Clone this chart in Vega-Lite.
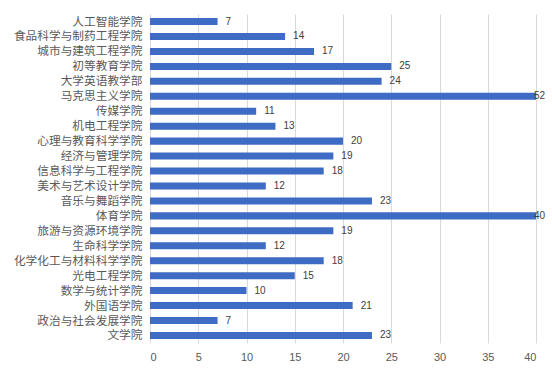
{
  "$schema": "https://vega.github.io/schema/vega-lite/v6.json",
  "width": 386,
  "height": 329,
  "autosize": {"type": "none"},
  "padding": {"left": 150, "top": 14, "right": 16, "bottom": 33},
  "background": "white",
  "config": {
    "view": {"stroke": null},
    "font": "Noto Sans CJK SC"
  },
  "data": {
    "values": [
      {"college": "人工智能学院", "count": 7},
      {"college": "食品科学与制药工程学院", "count": 14},
      {"college": "城市与建筑工程学院", "count": 17},
      {"college": "初等教育学院", "count": 25},
      {"college": "大学英语教学部", "count": 24},
      {"college": "马克思主义学院", "count": 52},
      {"college": "传媒学院", "count": 11},
      {"college": "机电工程学院", "count": 13},
      {"college": "心理与教育科学学院", "count": 20},
      {"college": "经济与管理学院", "count": 19},
      {"college": "信息科学与工程学院", "count": 18},
      {"college": "美术与艺术设计学院", "count": 12},
      {"college": "音乐与舞蹈学院", "count": 23},
      {"college": "体育学院", "count": 40},
      {"college": "旅游与资源环境学院", "count": 19},
      {"college": "生命科学学院", "count": 12},
      {"college": "化学化工与材料科学学院", "count": 18},
      {"college": "光电工程学院", "count": 15},
      {"college": "数学与统计学院", "count": 10},
      {"college": "外国语学院", "count": 21},
      {"college": "政治与社会发展学院", "count": 7},
      {"college": "文学院", "count": 23}
    ]
  },
  "encoding": {
    "y": {
      "field": "college",
      "type": "nominal",
      "sort": null,
      "title": null,
      "scale": {"paddingInner": 0.53, "paddingOuter": 0.27},
      "axis": {
        "domain": false,
        "ticks": false,
        "labelPadding": 8,
        "labelFontSize": 11.7,
        "labelColor": "#595959",
        "labelFont": "Noto Sans CJK SC"
      }
    },
    "x": {
      "field": "count",
      "type": "quantitative",
      "title": null,
      "scale": {"domain": [0, 40], "clamp": true, "nice": false},
      "axis": {
        "values": [0, 5, 10, 15, 20, 25, 30, 35, 40],
        "domain": false,
        "ticks": false,
        "grid": true,
        "gridColor": "#D9D9D9",
        "labelPadding": 8,
        "labelFontSize": 11,
        "labelColor": "#595959",
        "labelFont": "Liberation Sans"
      }
    }
  },
  "layer": [
    {"mark": {"type": "bar", "color": "#3E6BC3"}},
    {
      "transform": [{"filter": "datum.count < 40"}],
      "mark": {
        "type": "text",
        "align": "left",
        "dx": 8,
        "fontSize": 10,
        "color": "#404040",
        "font": "Liberation Sans"
      },
      "encoding": {"text": {"field": "count", "type": "quantitative"}}
    },
    {
      "transform": [{"filter": "datum.count >= 40"}],
      "mark": {
        "type": "text",
        "align": "right",
        "dx": 9,
        "fontSize": 10,
        "color": "#404040",
        "font": "Liberation Sans"
      },
      "encoding": {"text": {"field": "count", "type": "quantitative"}}
    }
  ]
}
